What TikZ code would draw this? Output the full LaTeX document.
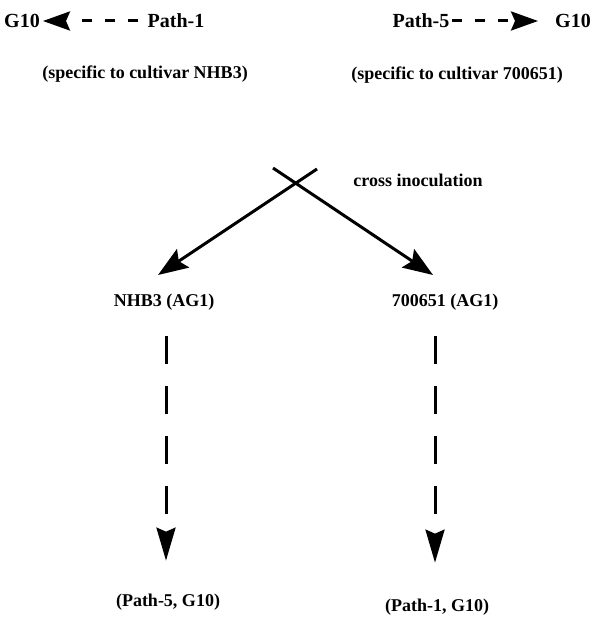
\documentclass[tikz,border=0pt]{standalone}
\usepackage{fontspec}
\setmainfont{Liberation Serif}
\usetikzlibrary{arrows.meta,positioning}

\tikzset{
  txt/.style={font=\bfseries\fontsize{18}{20}\selectfont, inner sep=1pt},
  bigtxt/.style={font=\bfseries\fontsize{20}{22}\selectfont, inner sep=1pt},
  shortdash/.style={line width=3pt, dash pattern=on 10pt off 13pt on 10pt off 13pt on 10pt off 60pt},
  longdash/.style={line width=3pt, dash pattern=on 28pt off 22pt},
  toptip/.style={-{Stealth[length=27pt,width=19pt,inset=4pt]}},
  crosstip/.style={-{Stealth[length=30pt,width=22pt,inset=5pt]}},
  downtip/.style={-{Stealth[length=33pt,width=19pt,inset=4pt]}},
}

\begin{document}
\begin{tikzpicture}[x=1pt,y=-1pt]
    \useasboundingbox (0,0) rectangle (592,620);
    % top row
    \node[bigtxt] (g10L) at (22,21) {G10};
    \node[bigtxt] (path1) at (176,21) {Path-1};
    \node[bigtxt] (path5) at (421,21) {Path-5};
    \node[bigtxt] (g10R) at (573,21) {G10};
    \node[txt] (spec1) at (145,74) {(specific to cultivar NHB3)};
    \node[txt] (spec5) at (457,75) {(specific to cultivar 700651)};
    \draw[shortdash, toptip, shorten <=8pt, shorten >=2pt] (path1) -- (g10L);
    \draw[shortdash, toptip, shorten <=1pt, shorten >=16pt] (path5) -- (g10R);
    % cross inoculation
    \coordinate (startA) at (273,168);
    \coordinate (startB) at (317,169);
    \coordinate (tipL) at (158,275);
    \coordinate (tipR) at (433,275);
    \node[txt] (cross) at (418,180) {cross inoculation};
    \draw[line width=3pt, crosstip] (startA) -- (tipR);
    \draw[line width=3pt, crosstip] (startB) -- (tipL);
    \node[txt] (nhb3) at (164,302) {NHB3 (AG1)};
    \node[txt] (cv7) at (445,302) {700651 (AG1)};
    % results
    \node[txt] (res5) at (168,602) {(Path-5, G10)};
    \node[txt] (res1) at (437,607) {(Path-1, G10)};
    \draw[longdash, downtip, shorten <=25pt, shorten >=32pt] ([xshift=2pt]nhb3.south) -- ([xshift=-2pt]res5.north);
    \draw[longdash, downtip, shorten <=25pt, shorten >=35pt] ([xshift=-10pt]cv7.south) -- ([xshift=-2pt]res1.north);
\end{tikzpicture}
\end{document}
